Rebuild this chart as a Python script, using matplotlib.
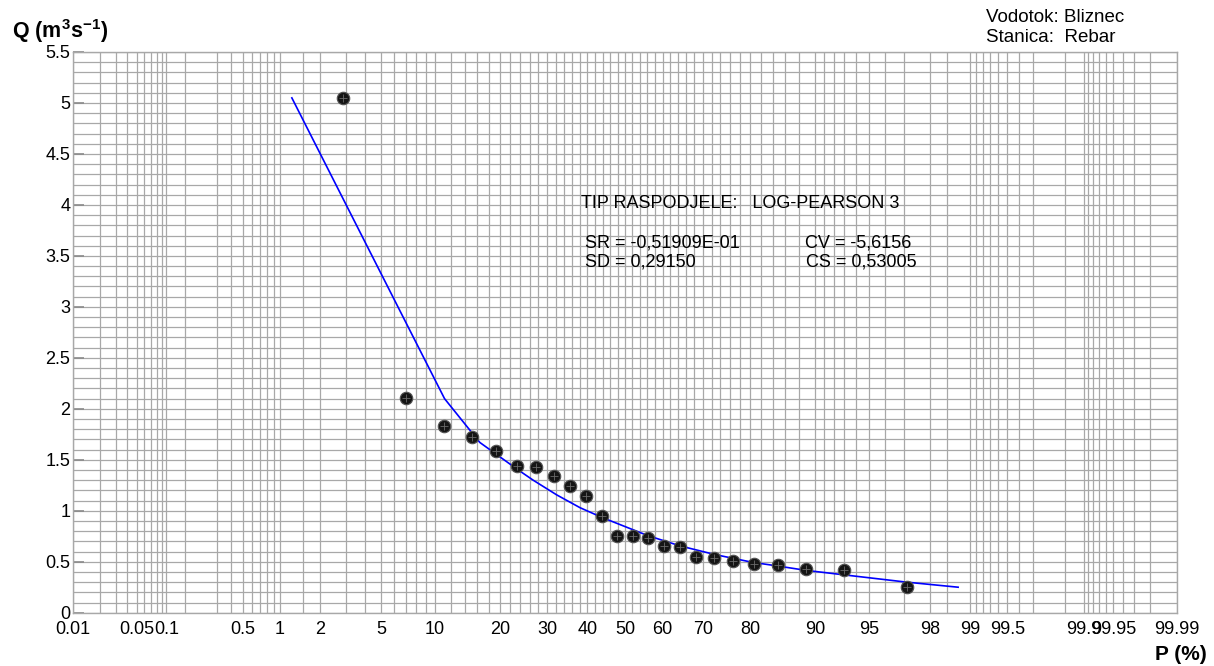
import math
import numpy as np
import matplotlib
matplotlib.use("Agg")
import matplotlib.pyplot as plt

plt.rcParams['font.family'] = ['Liberation Sans', 'DejaVu Sans']
plt.rcParams['mathtext.fontset'] = 'custom'
plt.rcParams['mathtext.rm'] = 'Liberation Sans:bold'
plt.rcParams['mathtext.bf'] = 'Liberation Sans:bold'

# ---------------- data ----------------
obs_p = [2.87, 6.97, 11.07, 15.16, 19.26, 23.36, 27.46, 31.56, 35.66, 39.75,
         43.85, 47.95, 52.05, 56.15, 60.25, 64.34, 68.44, 72.54, 76.64, 80.74,
         84.84, 88.93, 93.03, 97.13]
obs_q = [5.05, 2.11, 1.83, 1.72, 1.59, 1.44, 1.43, 1.34, 1.24, 1.14,
         0.95, 0.75, 0.75, 0.73, 0.65, 0.64, 0.55, 0.54, 0.51, 0.48,
         0.47, 0.43, 0.42, 0.25]

curve_p = [1.24, 11.2, 14.3, 16.4, 19.4, 23.3, 26.8, 32.3, 38.1, 43.8, 50.0,
           56.2, 64.5, 72.8, 80.4, 84.6, 88.9, 93.1, 97.1, 98.76]
curve_q = [5.05, 2.10, 1.83, 1.67, 1.55, 1.41, 1.30, 1.155, 1.03, 0.935, 0.845,
           0.755, 0.655, 0.57, 0.495, 0.46, 0.415, 0.37, 0.30, 0.25]

tick_p = [0.01, 0.05, 0.1, 0.5, 1, 2, 5, 10, 20, 30, 40, 50, 60, 70, 80, 90,
          95, 98, 99, 99.5, 99.9, 99.95, 99.99]
tick_labels = ['0.01', '0.05', '0.1', '0.5', '1', '2', '5', '10', '20', '30',
               '40', '50', '60', '70', '80', '90', '95', '98', '99', '99.5',
               '99.9', '99.95', '99.99']

grid_p = ([0.01, 0.02, 0.03, 0.04, 0.05, 0.06, 0.07, 0.08, 0.09, 0.1, 0.15,
           0.3, 0.4, 0.5, 0.6, 0.7, 0.8, 0.9, 1, 1.5, 2, 3, 4, 5, 6, 7, 8, 9, 10]
          + list(range(12, 90, 2))
          + [90, 91, 92, 93, 94, 95, 96, 97, 98, 98.5, 99, 99.1, 99.2, 99.3,
             99.4, 99.5, 99.6, 99.7, 99.85, 99.9, 99.91, 99.92, 99.93, 99.94,
             99.95, 99.96, 99.97, 99.98, 99.99])

y_ticks = [0, 0.5, 1, 1.5, 2, 2.5, 3, 3.5, 4, 4.5, 5, 5.5]
y_labels = ['0', '0.5', '1', '1.5', '2', '2.5', '3', '3.5', '4', '4.5', '5', '5.5']


# ---------------- probability scale ----------------
_erfc = np.vectorize(math.erfc)


def _ppf(p):
    p = np.clip(np.asarray(p, dtype=float), 1e-9, 1 - 1e-9)
    a = [-3.969683028665376e+01, 2.209460984245205e+02, -2.759285104469687e+02,
         1.383577518672690e+02, -3.066479806614716e+01, 2.506628277459239e+00]
    b = [-5.447609879822406e+01, 1.615858368580409e+02, -1.556989798598866e+02,
         6.680131188771972e+01, -1.328068155288572e+01]
    c = [-7.784894002430293e-03, -3.223964580411365e-01, -2.400758277161838e+00,
         -2.549671010366094e+00, 4.374664141464968e+00, 2.938163982698783e+00]
    d = [7.784695709041462e-03, 3.224671290700398e-01, 2.445134137142996e+00,
         3.754408661907416e+00]
    plow = 0.02425
    x = np.empty_like(p)
    lo = p < plow
    hi = p > 1 - plow
    mid = ~(lo | hi)
    q = np.sqrt(-2 * np.log(p[lo]))
    x[lo] = (((((c[0]*q+c[1])*q+c[2])*q+c[3])*q+c[4])*q+c[5]) / \
        ((((d[0]*q+d[1])*q+d[2])*q+d[3])*q+1)
    q = p[mid] - 0.5
    r = q*q
    x[mid] = (((((a[0]*r+a[1])*r+a[2])*r+a[3])*r+a[4])*r+a[5])*q / \
        (((((b[0]*r+b[1])*r+b[2])*r+b[3])*r+b[4])*r+1)
    q = np.sqrt(-2 * np.log(1 - p[hi]))
    x[hi] = -(((((c[0]*q+c[1])*q+c[2])*q+c[3])*q+c[4])*q+c[5]) / \
        ((((d[0]*q+d[1])*q+d[2])*q+d[3])*q+1)
    e = 0.5 * _erfc(-x / math.sqrt(2)) - p
    u = e * math.sqrt(2 * math.pi) * np.exp(x * x / 2)
    x = x - u / (1 + x * u / 2)
    return x


def fwd(pc):
    return _ppf(np.asarray(pc, dtype=float) / 100.0)


def inv(z):
    z = np.asarray(z, dtype=float)
    return 100.0 * 0.5 * _erfc(-z / math.sqrt(2))


# ---------------- figure ----------------
W, H = 1214, 666
fig = plt.figure(figsize=(W / 100, H / 100), dpi=100)
ax = fig.add_axes([73 / W, 1 - 612.7 / H, (1177 - 73) / W, (612.7 - 52) / H])
ax.set_xscale('function', functions=(fwd, inv))
ax.set_xlim(0.01, 99.99)
ax.set_ylim(0, 5.5)

gcol = '#a8a8a8'
ax.set_xticks(tick_p)
ax.set_xticklabels(tick_labels, fontsize=13)
ax.set_xticks(grid_p, minor=True)
ax.set_yticks(y_ticks)
ax.set_yticklabels(y_labels, fontsize=13)
ax.set_yticks(np.round(np.arange(0, 5.51, 0.1), 2), minor=True)
ax.tick_params(axis='x', which='both', length=0, pad=6)
ax.tick_params(axis='y', which='major', direction='in', length=8,
               width=1.2, color='#8a8a8a', pad=2)
ax.tick_params(axis='y', which='minor', length=0)
ax.grid(True, which='both', color=gcol, linewidth=0.9)
ax.set_axisbelow(True)
for s in ax.spines.values():
    s.set_color(gcol)
    s.set_linewidth(1.0)

ax.plot(curve_p, curve_q, color='#0000ff', linewidth=1.2, zorder=3)
ax.plot(obs_p, obs_q, linestyle='none', marker='o', markersize=9,
        markerfacecolor='#151515', markeredgecolor='#555555',
        markeredgewidth=0.8, zorder=4)
ax.plot(obs_p, obs_q, linestyle='none', marker='+', markersize=6,
        markeredgecolor='#6a6a6a', markeredgewidth=0.6, zorder=5)


def ftext(x, y, s, **kw):
    fig.text(x / W, 1 - y / H, s, **kw)


ftext(12, 38, r'Q (m$^{3}$s$^{-1}$)', fontsize=15.5, fontweight='bold',
      va='baseline', ha='left')
ftext(1207, 660, 'P (%)', fontsize=15, fontweight='bold', va='baseline',
      ha='right')
ftext(986, 18, 'Vodotok: Bliznec', fontsize=13.5, va='center', ha='left')
ftext(986, 38, 'Stanica:  Rebar', fontsize=13.5, va='center', ha='left')

fs = 13
ftext(581, 204, 'TIP RASPODJELE:   LOG-PEARSON 3', fontsize=fs,
      va='center', ha='left')
ftext(585, 243, 'SR = -0,51909E-01', fontsize=fs, va='center', ha='left')
ftext(585, 262, 'SD = 0,29150', fontsize=fs, va='center', ha='left')
ftext(805, 243, 'CV = -5,6156', fontsize=fs, va='center', ha='left')
ftext(806, 262, 'CS = 0,53005', fontsize=fs, va='center', ha='left')

fig.savefig('out.png', dpi=100)
